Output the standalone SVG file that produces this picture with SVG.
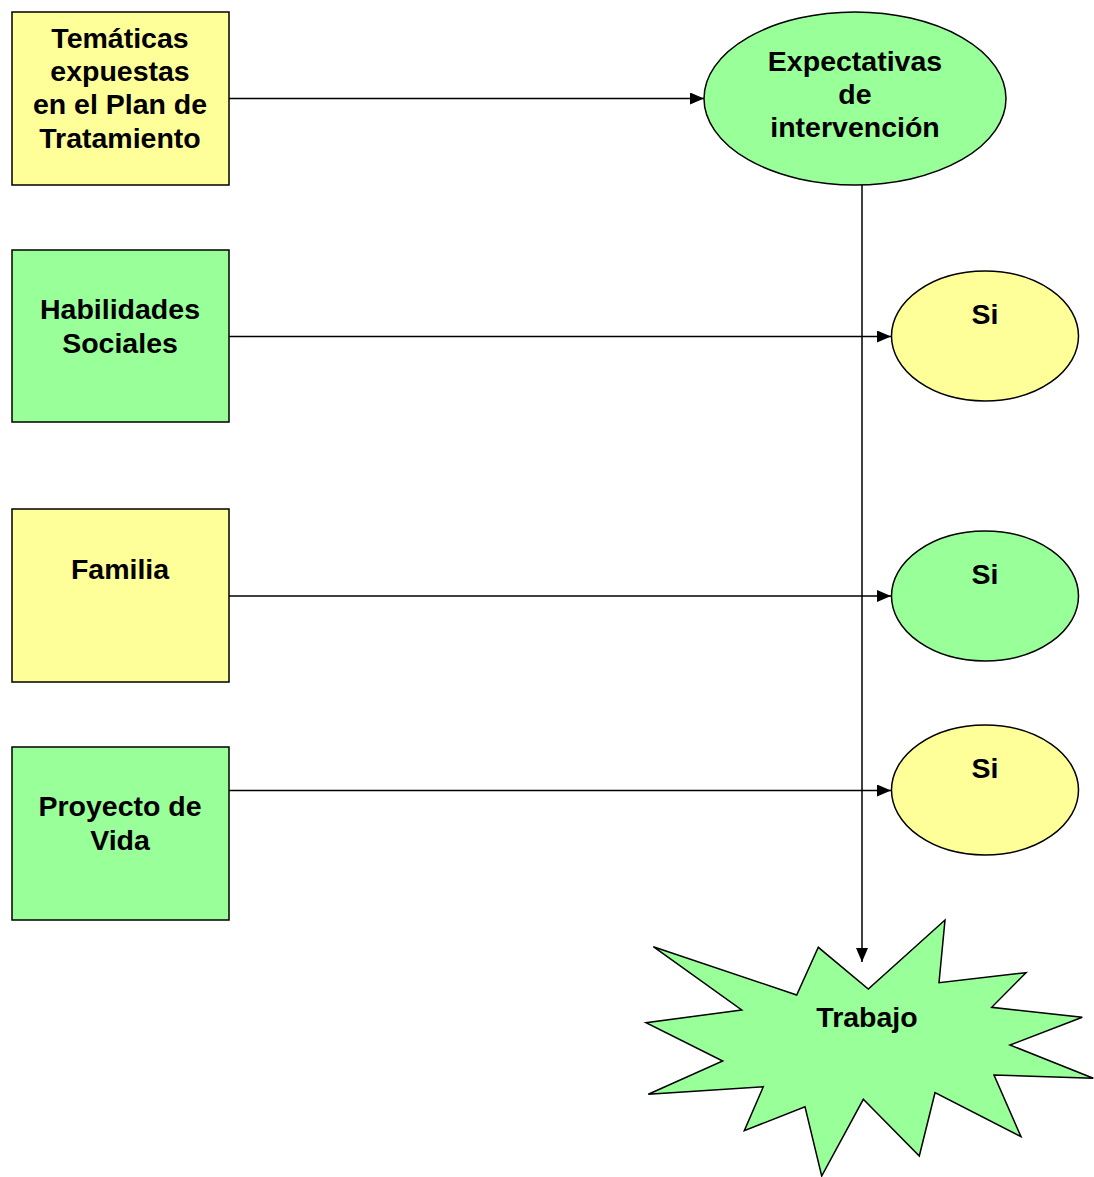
<svg xmlns="http://www.w3.org/2000/svg" width="1094" height="1177" viewBox="0 0 1094 1177">
<style>
.y{fill:#FFFF99;stroke:#000;stroke-width:1.5}
.g{fill:#99FF99;stroke:#000;stroke-width:1.5}
text{font-family:"Liberation Sans",Arial,sans-serif;font-weight:bold;font-size:28.5px;text-anchor:middle;fill:#000}
.c{stroke:#000;stroke-width:1.5;fill:none}
</style>
<defs>
<marker id="ah" markerWidth="14" markerHeight="12" refX="14" refY="6" orient="auto" markerUnits="userSpaceOnUse">
<path d="M0,0 L14,6 L0,12 Z" fill="#000"/>
</marker>
</defs>
<rect width="1094" height="1177" fill="#fff"/>
<g id="connectors">
<line class="c" x1="229" y1="98.5" x2="704" y2="98.5" marker-end="url(#ah)"/>
<line class="c" x1="229" y1="336.5" x2="891" y2="336.5" marker-end="url(#ah)"/>
<line class="c" x1="229" y1="596" x2="891" y2="596" marker-end="url(#ah)"/>
<line class="c" x1="229" y1="790.5" x2="891" y2="790.5" marker-end="url(#ah)"/>
<line class="c" x1="862" y1="185" x2="862" y2="962" marker-end="url(#ah)"/>
</g>
<g id="n1"><rect class="y" x="12" y="12" width="217" height="173"/>
<text x="120" y="48">Temáticas</text><text x="120" y="81">expuestas</text><text x="120" y="114">en el Plan de</text><text x="120" y="148">Tratamiento</text></g>
<g id="n2"><rect class="g" x="12" y="250" width="217" height="172"/>
<text x="120" y="319">Habilidades</text><text x="120" y="353">Sociales</text></g>
<g id="n3"><rect class="y" x="12" y="509" width="217" height="173"/>
<text x="120" y="579">Familia</text></g>
<g id="n4"><rect class="g" x="12" y="747" width="217" height="173"/>
<text x="120" y="816">Proyecto de</text><text x="120" y="850">Vida</text></g>
<g id="n5"><ellipse class="g" cx="855" cy="98.5" rx="151" ry="86.5"/>
<text x="855" y="71">Expectativas</text><text x="855" y="104">de</text><text x="855" y="137">intervención</text></g>
<g id="n6"><ellipse class="y" cx="985" cy="336" rx="93.5" ry="65"/><text x="985" y="324">Si</text></g>
<g id="n7"><ellipse class="g" cx="985" cy="596" rx="93.5" ry="65"/><text x="985" y="584">Si</text></g>
<g id="n8"><ellipse class="y" cx="985" cy="790" rx="93.5" ry="65"/><text x="985" y="778">Si</text></g>
<g id="n9"><polygon class="g" points="653.3,946.7 796.7,995 818.3,947.3 868.3,989 945,920 939,982.7 1026,972.7 991.7,1007.3 1082.3,1017.3 1010,1045 1093.3,1078.3 994,1075 1021,1136.7 935,1092.7 919.3,1156 863.3,1099.3 821.7,1176 805,1106.7 744.3,1130.7 763.3,1086.7 648.3,1094.3 722.7,1061 646,1022.7 741.7,1010"/>
<text x="867" y="1027">Trabajo</text></g>
</svg>
